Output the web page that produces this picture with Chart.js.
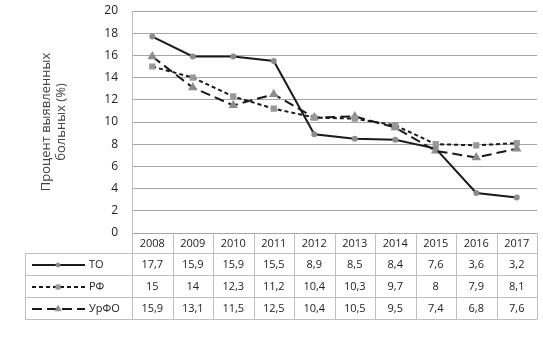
<!DOCTYPE html>
<html lang="ru">
<head>
    <meta charset="UTF-8">
    <script src="https://cdn.jsdelivr.net/npm/chart.js"></script>
    <title>Процент выявленных больных</title>
    <style>
        html, body { margin: 0; padding: 0; background: #fff; }
        #wrap { width: 543px; height: 353px; }
    </style>
</head>
<body>
<div id="wrap"><canvas id="chart" width="543" height="353"></canvas></div>
<script>
    // data
    const years = ['2008', '2009', '2010', '2011', '2012', '2013', '2014', '2015', '2016', '2017'];
    const seriesTO = [17.7, 15.9, 15.9, 15.5, 8.9, 8.5, 8.4, 7.6, 3.6, 3.2];
    const seriesRF = [15, 14, 12.3, 11.2, 10.4, 10.3, 9.7, 8, 7.9, 8.1];
    const seriesUrFO = [15.9, 13.1, 11.5, 12.5, 10.4, 10.5, 9.5, 7.4, 6.8, 7.6];
    const seriesNames = ['ТО', 'РФ', 'УрФО'];
    const yTicks = [0, 2, 4, 6, 8, 10, 12, 14, 16, 18, 20];

    const gridColor = '#a6a6a6';
    const tableColor = '#bfbfbf';
    const fontFamily = "'Open Sans', 'Noto Sans', sans-serif";

    const fmt = v => String(v).replace('.', ',');

    // data table drawn under the plot, columns taken from the x scale
    const dataTable = {
        id: 'dataTable',
        afterDraw(chart) {
            const ctx = chart.ctx;
            const x = chart.scales.x;
            const area = chart.chartArea;
            const step = x.getPixelForValue(1) - x.getPixelForValue(0);
            const left = area.left, right = area.right;
            const top = area.bottom;
            const headH = 20, rowH = 22;
            const legendLeft = 25;
            const bottom = top + headH + rowH * 3;

            ctx.save();
            ctx.strokeStyle = tableColor;
            ctx.lineWidth = 1;
            ctx.beginPath();
            // horizontal lines
            for (let r = 0; r <= 3; r++) {
                const yy = Math.round(top + headH + rowH * r) + 0.5;
                ctx.moveTo(legendLeft, yy);
                ctx.lineTo(right, yy);
            }
            // vertical lines
            ctx.moveTo(legendLeft + 0.5, top + headH);
            ctx.lineTo(legendLeft + 0.5, bottom);
            years.forEach((y, i) => {
                const xx = Math.round(x.getPixelForValue(i) + step / 2) + 0.5;
                ctx.moveTo(xx, top);
                ctx.lineTo(xx, bottom + 0.5);
            });
            ctx.moveTo(Math.round(left) + 0.5, top);
            ctx.lineTo(Math.round(left) + 0.5, bottom + 0.5);
            ctx.stroke();

            ctx.fillStyle = '#222';
            ctx.font = '11px ' + fontFamily;
            ctx.textAlign = 'center';
            ctx.textBaseline = 'middle';
            years.forEach((y, i) => {
                ctx.fillText(y, x.getPixelForValue(i), top + headH / 2 + 1);
            });
            chart.data.datasets.forEach((ds, r) => {
                const cy = top + headH + rowH * r + rowH / 2 + 1;
                ds.data.forEach((v, i) => {
                    ctx.fillText(fmt(v), x.getPixelForValue(i), cy);
                });
                // legend key: line sample, marker, name
                ctx.save();
                ctx.strokeStyle = ds.borderColor;
                ctx.lineWidth = ds.borderWidth;
                ctx.setLineDash(ds.borderDash || []);
                ctx.beginPath();
                ctx.moveTo(32, cy);
                ctx.lineTo(85, cy);
                ctx.stroke();
                ctx.restore();
                ctx.save();
                ctx.fillStyle = ds.pointBackgroundColor;
                ctx.strokeStyle = ds.pointBorderColor;
                Chart.helpers.drawPoint(ctx, {
                    pointStyle: ds.pointStyle,
                    radius: ds.pointRadius,
                    borderWidth: 1
                }, 58, cy);
                ctx.restore();
                ctx.fillStyle = '#222';
                ctx.textAlign = 'left';
                ctx.fillText(ds.label, 89, cy);
                ctx.textAlign = 'center';
            });
            ctx.restore();
        }
    };

    const ctx = document.getElementById('chart').getContext('2d');
    const chart = new Chart(ctx, {
        type: 'line',
        data: {
            labels: years,
            datasets: [{
                label: seriesNames[0],
                data: seriesTO,
                borderColor: '#1a1a1a',
                borderWidth: 2,
                pointStyle: 'circle',
                pointRadius: 2,
                pointBackgroundColor: '#8c8c8c',
                pointBorderColor: '#8c8c8c'
            }, {
                label: seriesNames[1],
                data: seriesRF,
                borderColor: '#1a1a1a',
                borderWidth: 2,
                borderDash: [4, 3],
                pointStyle: 'rect',
                pointRadius: 3,
                pointBackgroundColor: '#999',
                pointBorderColor: '#999'
            }, {
                label: seriesNames[2],
                data: seriesUrFO,
                borderColor: '#1a1a1a',
                borderWidth: 2,
                borderDash: [10, 5],
                pointStyle: 'triangle',
                pointRadius: 3.5,
                pointBackgroundColor: '#8c8c8c',
                pointBorderColor: '#8c8c8c'
            }]
        },
        options: {
            responsive: false,
            animation: false,
            tension: 0,
            layout: { padding: { top: 11, right: 2, bottom: 120, left: 0 } },
            plugins: {
                legend: { display: false },
                tooltip: { enabled: false }
            },
            scales: {
                x: {
                    offset: true,
                    grid: { display: false, drawTicks: false },
                    border: { display: false },
                    ticks: { display: false }
                },
                y: {
                    min: 0,
                    max: 20,
                    afterBuildTicks: s => { s.ticks = yTicks.map(v => ({ value: v })); },
                    afterFit: s => { s.width = 132; s.paddingTop = 0; s.paddingBottom = 0; },
                    grid: { color: gridColor, drawTicks: false },
                    border: { display: true, color: tableColor },
                    ticks: {
                        padding: 14,
                        color: '#222',
                        font: { size: 12, family: fontFamily }
                    },
                    title: {
                        display: true,
                        text: ['Процент выявленных', 'больных (%)'],
                        color: '#444',
                        padding: { top: 38, bottom: 0 },
                        font: { size: 13, family: fontFamily },
                        lineHeight: 1.35
                    }
                }
            }
        },
        plugins: [dataTable]
    });
</script>
</body>
</html>
